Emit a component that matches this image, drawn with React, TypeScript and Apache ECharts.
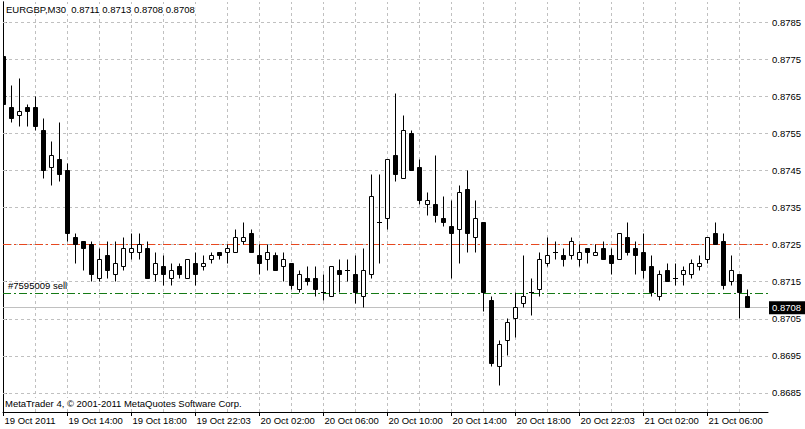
import React, { useEffect, useRef } from "react";
import * as echarts from "echarts";

const SYMBOL = "EURGBP,M30";
const COPYRIGHT = "MetaTrader 4, © 2001-2011 MetaQuotes Software Corp.";
const ORDER_LABEL = "#7595009 sell";

const OPEN = [
  0.8776, 0.8762, 0.8760, 0.8762, 0.8762, 0.8756, 0.8746, 0.8748, 0.8745, 0.8727,
  0.8726, 0.8725, 0.8716, 0.8722, 0.8717, 0.8719, 0.8723, 0.8723, 0.8724, 0.8717,
  0.8719, 0.8716, 0.8719, 0.8716, 0.8720, 0.8719, 0.8721, 0.8723, 0.8723, 0.8723,
  0.8726, 0.8728, 0.8722, 0.8721, 0.8722, 0.8719, 0.8720, 0.8713, 0.8716, 0.8716,
  0.8712, 0.8711, 0.8718, 0.8718, 0.8717, 0.8711, 0.8717, 0.8731, 0.8732, 0.8749,
  0.8743, 0.8755, 0.8746, 0.8736, 0.8736, 0.8732, 0.8730, 0.8729, 0.8740, 0.8727,
  0.8731, 0.8710, 0.8692, 0.8699, 0.8705, 0.8709, 0.8712, 0.8713, 0.8720, 0.8723,
  0.8722, 0.8722, 0.8721, 0.8724, 0.8722, 0.8724, 0.8722, 0.8721, 0.8727, 0.8724,
  0.8723, 0.8719, 0.8711, 0.8718, 0.8716, 0.8717, 0.8717, 0.8719, 0.8721, 0.8728,
  0.8726, 0.8715, 0.8717, 0.8711,
];
const HIGH = [
  0.8776, 0.8768, 0.8770, 0.8763, 0.8765, 0.8759, 0.8753, 0.8758, 0.8747, 0.8728,
  0.8726, 0.8726, 0.8724, 0.8726, 0.8726, 0.8727, 0.8728, 0.8728, 0.8726, 0.8723,
  0.8722, 0.8720, 0.8720, 0.8721, 0.8723, 0.8722, 0.8723, 0.8723, 0.8725, 0.8729,
  0.8731, 0.8729, 0.8725, 0.8725, 0.8723, 0.8723, 0.8720, 0.8718, 0.8719, 0.8719,
  0.8717, 0.8719, 0.8721, 0.8721, 0.8722, 0.8724, 0.8744, 0.8744, 0.8748, 0.8766,
  0.8760, 0.8756, 0.8748, 0.8739, 0.8749, 0.8738, 0.8737, 0.8741, 0.8745, 0.8737,
  0.8731, 0.8711, 0.8699, 0.8705, 0.8712, 0.8722, 0.8716, 0.8723, 0.8727, 0.8726,
  0.8724, 0.8727, 0.8725, 0.8724, 0.8725, 0.8726, 0.8724, 0.8728, 0.8731, 0.8726,
  0.8728, 0.8722, 0.8718, 0.8720, 0.8720, 0.8719, 0.8721, 0.8722, 0.8727, 0.8731,
  0.8728, 0.8722, 0.8717, 0.8713,
];
const LOW = [
  0.8763, 0.8758, 0.8757, 0.8757, 0.8756, 0.8743, 0.8741, 0.8742, 0.8726, 0.8720,
  0.8718, 0.8715, 0.8715, 0.8716, 0.8715, 0.8718, 0.8721, 0.8721, 0.8716, 0.8715,
  0.8714, 0.8714, 0.8716, 0.8716, 0.8714, 0.8718, 0.8720, 0.8721, 0.8720, 0.8723,
  0.8725, 0.8723, 0.8717, 0.8718, 0.8718, 0.8715, 0.8713, 0.8712, 0.8714, 0.8711,
  0.8710, 0.8711, 0.8712, 0.8715, 0.8709, 0.8708, 0.8716, 0.8720, 0.8729, 0.8742,
  0.8743, 0.8745, 0.8736, 0.8733, 0.8731, 0.8730, 0.8716, 0.8720, 0.8723, 0.8723,
  0.8707, 0.8692, 0.8687, 0.8695, 0.8700, 0.8708, 0.8706, 0.8711, 0.8719, 0.8721,
  0.8719, 0.8721, 0.8719, 0.8720, 0.8722, 0.8721, 0.8717, 0.8721, 0.8722, 0.8717,
  0.8716, 0.8711, 0.8710, 0.8715, 0.8714, 0.8714, 0.8716, 0.8718, 0.8720, 0.8725,
  0.8713, 0.8714, 0.8705, 0.8708,
];
const CLOSE = [
  0.8763, 0.8759, 0.8761, 0.8761, 0.8757, 0.8745, 0.8749, 0.8744, 0.8728, 0.8725,
  0.8724, 0.8717, 0.8721, 0.8718, 0.8720, 0.8724, 0.8724, 0.8725, 0.8716, 0.8720,
  0.8717, 0.8718, 0.8717, 0.8721, 0.8717, 0.8720, 0.8722, 0.8722, 0.8724, 0.8727,
  0.8727, 0.8723, 0.8720, 0.8723, 0.8718, 0.8721, 0.8714, 0.8717, 0.8715, 0.8713,
  0.8712, 0.8719, 0.8717, 0.8718, 0.8712, 0.8718, 0.8738, 0.8731, 0.8748, 0.8744,
  0.8756, 0.8745, 0.8737, 0.8737, 0.8733, 0.8731, 0.8728, 0.8739, 0.8728, 0.8732,
  0.8712, 0.8693, 0.8698, 0.8704, 0.8708, 0.8711, 0.8712, 0.8721, 0.8722, 0.8723,
  0.8721, 0.8726, 0.8723, 0.8723, 0.8723, 0.8721, 0.8720, 0.8728, 0.8723, 0.8722,
  0.8718, 0.8712, 0.8717, 0.8715, 0.8716, 0.8718, 0.8720, 0.8720, 0.8727, 0.8725,
  0.8714, 0.8718, 0.8712, 0.8708,
];

const TIME_LABELS = [
  "19 Oct 2011", "19 Oct 14:00", "19 Oct 18:00", "19 Oct 22:03",
  "20 Oct 02:00", "20 Oct 06:00", "20 Oct 10:00", "20 Oct 14:00",
  "20 Oct 18:00", "20 Oct 22:03", "21 Oct 02:00", "21 Oct 06:00",
];
const TIME_LABEL_INDEX = [0, 8, 16, 24, 32, 40, 48, 56, 64, 72, 80, 88];
const GRID_INDEX = [4, 8, 12, 16, 20, 24, 28, 32, 36, 40, 44, 48, 52, 56, 60, 64, 68, 72, 76, 80, 84, 88, 92];
const PRICE_TICKS = [0.8685, 0.8695, 0.8705, 0.8715, 0.8725, 0.8735, 0.8745, 0.8755, 0.8765, 0.8775, 0.8785];

const TP_PRICE = 0.8725;
const ORDER_PRICE = 0.8712;
const BID_PRICE = 0.8708;

const X_MIN = -0.0625;
const X_MAX = 95.5625;
const Y_MIN = 0.86798;
const Y_MAX = 0.87906;

const FONT = "Liberation Sans";
const FS = 9.5;

export default function App() {
  const ref = useRef<HTMLDivElement>(null);

  useEffect(() => {
    if (!ref.current) return;
    const chart = echarts.init(ref.current, undefined, { renderer: "svg" });
    const n = OPEN.length;
    const candles = OPEN.map((o, i) => [i, o, CLOSE[i], LOW[i], HIGH[i]]);
    const header = `${SYMBOL}  ${OPEN[n - 1].toFixed(4)} ${HIGH[n - 1].toFixed(4)} ${LOW[n - 1].toFixed(4)} ${CLOSE[n - 1].toFixed(4)}`;
    const snap = (v: number) => Math.round(v - 0.5) + 0.5;

    chart.setOption({
      animation: false,
      backgroundColor: "#ffffff",
      grid: { left: 3, top: 2, width: 765, height: 410, containLabel: false },
      xAxis: {
        type: "value",
        min: X_MIN,
        max: X_MAX,
        axisLine: { show: true, onZero: false, lineStyle: { color: "#000", width: 1 } },
        axisTick: { show: true, customValues: TIME_LABEL_INDEX, length: 4, lineStyle: { color: "#000" } },
        axisLabel: {
          customValues: TIME_LABEL_INDEX,
          formatter: (v: number) => TIME_LABELS[TIME_LABEL_INDEX.indexOf(Math.round(v))] ?? "",
          align: "left",
          padding: [0, 0, 0, 1],
          margin: 3,
          color: "#000",
          fontSize: FS,
          fontFamily: FONT,
        },
        splitLine: { show: false },
      },
      yAxis: [
        {
          type: "value",
          position: "right",
          min: Y_MIN,
          max: Y_MAX,
          axisLine: { show: true, lineStyle: { color: "#000", width: 1 } },
          axisTick: { show: true, customValues: PRICE_TICKS, length: 3, lineStyle: { color: "#000" } },
          axisLabel: {
            customValues: PRICE_TICKS,
            formatter: (v: number) => v.toFixed(4),
            margin: 4,
            color: "#000",
            fontSize: FS,
            fontFamily: FONT,
          },
          splitLine: { show: false },
        },
        {
          type: "value",
          position: "left",
          min: Y_MIN,
          max: Y_MAX,
          axisLine: { show: true, lineStyle: { color: "#000", width: 1 } },
          axisTick: { show: false },
          axisLabel: { show: false },
          splitLine: { show: false },
        },
      ],
      series: [
        {
          type: "line",
          data: [],
          z: 1,
          markLine: {
            silent: true,
            z: 1,
            precision: 6,
            symbol: ["none", "none"],
            label: { show: false },
            lineStyle: { color: "#c0c0c0", type: [3, 3], width: 1 },
            data: [
              ...GRID_INDEX.map((v) => ({ xAxis: v })),
              ...PRICE_TICKS.map((v) => ({ yAxis: v })),
            ],
          },
        },
        {
          type: "line",
          data: [],
          z: 2,
          markLine: {
            silent: true,
            z: 2,
            precision: 6,
            symbol: ["none", "none"],
            data: [
              {
                yAxis: TP_PRICE,
                lineStyle: { color: "#e8471e", type: [8, 3, 2, 3], width: 1 },
                label: { show: false },
              },
              {
                yAxis: ORDER_PRICE,
                lineStyle: { color: "#157a15", type: [8, 3, 2, 3], width: 1 },
                label: {
                  show: true,
                  position: "insideStartTop",
                  formatter: ORDER_LABEL,
                  color: "#000",
                  fontSize: FS,
                  fontFamily: FONT,
                  distance: [5, 2],
                },
              },
              {
                yAxis: BID_PRICE,
                lineStyle: { color: "#c0c0c0", type: "solid", width: 1 },
                label: {
                  show: true,
                  position: "end",
                  formatter: BID_PRICE.toFixed(4),
                  color: "#fff",
                  backgroundColor: "#000",
                  padding: [2, 4, 1, 3],
                  distance: 1,
                  fontSize: FS,
                  fontFamily: FONT,
                },
              },
            ],
          },
        },
        {
          type: "custom",
          z: 10,
          clip: true,
          data: candles,
          encode: { x: 0, y: [1, 2, 3, 4] },
          renderItem: (params: any, api: any) => {
            const i = api.value(0);
            const o = api.value(1);
            const c = api.value(2);
            const l = api.value(3);
            const h = api.value(4);
            const cx = snap(api.coord([i, o])[0]);
            const yO = snap(api.coord([i, o])[1]);
            const yC = snap(api.coord([i, c])[1]);
            const yL = snap(api.coord([i, l])[1]);
            const yH = snap(api.coord([i, h])[1]);
            const children: any[] = [
              {
                type: "line",
                shape: { x1: cx, y1: yH, x2: cx, y2: yL },
                style: { stroke: "#000", lineWidth: 1 },
              },
            ];
            if (yO === yC) {
              children.push({
                type: "line",
                shape: { x1: cx - 2.5, y1: yO, x2: cx + 2.5, y2: yO },
                style: { stroke: "#000", lineWidth: 1 },
              });
            } else {
              const top = Math.min(yO, yC);
              const bot = Math.max(yO, yC);
              children.push({
                type: "rect",
                shape: { x: cx - 2, y: top, width: 4, height: bot - top },
                style: { fill: c > o ? "#fff" : "#000", stroke: "#000", lineWidth: 1 },
              });
            }
            return { type: "group", children };
          },
        },
      ],
      graphic: [
        {
          type: "text",
          left: 5,
          top: 4,
          z: 100,
          style: {
            text: header,
            fill: "#000",
            font: `${FS}px ${FONT}`,
            backgroundColor: "#fff",
            padding: [0, 1, 0, 1],
          },
        },
        {
          type: "text",
          left: 4,
          top: 398,
          z: 100,
          style: {
            text: COPYRIGHT,
            fill: "#000",
            font: `${FS}px ${FONT}`,
            backgroundColor: "#fff",
            padding: [0, 1, 0, 1],
          },
        },
      ],
    });

    return () => chart.dispose();
  }, []);

  return (
    <div
      ref={ref}
      style={{ position: "absolute", left: 0, top: 0, width: 805, height: 429, background: "#fff" }}
    />
  );
}
